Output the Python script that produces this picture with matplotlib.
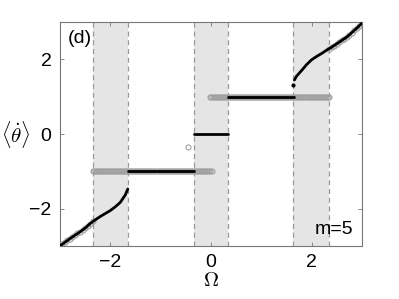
import numpy as np
import matplotlib
matplotlib.use("Agg")
import matplotlib.pyplot as plt

plt.rcParams['font.family'] = ['Liberation Sans', 'DejaVu Sans']
plt.rcParams['mathtext.fontset'] = 'cm'

# locking windows (shaded bands)
bands = [(-2.35, -1.64), (-0.34, 0.34), (1.64, 2.35)]

# black branch: drifting parts
left_om = [-3.0, -2.9, -2.8, -2.7, -2.6, -2.5, -2.4, -2.3, -2.2, -2.1, -2.0, -1.9, -1.8, -1.7, -1.65]
left_val = [-3.0, -2.9, -2.8, -2.71, -2.62, -2.52, -2.40, -2.30, -2.21, -2.13, -2.05, -1.95, -1.83, -1.63, -1.47]
right_om = [1.66, 1.7, 1.8, 1.9, 2.0, 2.1, 2.2, 2.3, 2.4, 2.5, 2.6, 2.7, 2.8, 2.9, 3.0]
right_val = [1.45, 1.55, 1.70, 1.86, 1.99, 2.08, 2.16, 2.25, 2.33, 2.42, 2.51, 2.60, 2.72, 2.84, 2.97]
right_first = (1.64, 1.32)

# black branch: plateaus (start, end, level)
black_plateaus = [(-1.65, -0.34, -1.0), (-0.34, 0.34, 0.0), (0.34, 1.65, 1.0)]

# gray branch: plateaus and drifting ends
gray_plateaus = [(-2.35, 0.03, -1.0), (-0.02, 2.35, 1.0)]
gray_left_om = [-3.0, -2.95, -2.9, -2.85, -2.8, -2.75, -2.7, -2.65, -2.6, -2.55, -2.5, -2.45, -2.4, -2.35]
gray_left_val = [-3.0, -2.95, -2.9, -2.85, -2.8, -2.75, -2.71, -2.66, -2.62, -2.57, -2.52, -2.46, -2.40, -2.34]
gray_right_om = [2.35, 2.4, 2.45, 2.5, 2.55, 2.6, 2.65, 2.7, 2.75, 2.8, 2.85, 2.9, 2.95, 3.0]
gray_right_val = [2.29, 2.33, 2.37, 2.42, 2.46, 2.51, 2.55, 2.60, 2.66, 2.72, 2.78, 2.84, 2.90, 2.97]
gray_outlier = (-0.45, -0.34)

step = 0.03

fig = plt.figure(figsize=(3.99, 2.99), dpi=100)
ax = fig.add_axes([0.150, 0.177, 0.757, 0.749])

for a, b in bands:
    ax.axvspan(a, b, color='#e5e5e5', lw=0, zorder=0)
    ax.axvline(a, color='#999999', ls=(0, (4, 3)), lw=0.9, zorder=1)
    ax.axvline(b, color='#999999', ls=(0, (4, 3)), lw=0.9, zorder=1)

gcol = '#a0a0a0'
gkw = dict(ls='none', marker='o', ms=3.6, mfc='none', mec=gcol, mew=0.8, zorder=2)
for a, b, lev in gray_plateaus:
    xs = np.arange(a, b + 1e-9, step)
    ax.plot(xs, np.full_like(xs, lev), **gkw)
ax.plot(gray_left_om, gray_left_val, **gkw)
ax.plot(gray_right_om, gray_right_val, **gkw)
ax.plot(*gray_outlier, **gkw)

bkw = dict(color='black', lw=2.0, solid_capstyle='round', zorder=3)
ax.plot(left_om, left_val, **bkw)
ax.plot(right_om, right_val, **bkw)
ax.plot(*right_first, 'o', color='black', ms=2.0, zorder=3)
for a, b, lev in black_plateaus:
    ax.plot([a, b], [lev, lev], **bkw)

ax.set_xlim(-3, 3)
ax.set_ylim(-3, 3)
ax.set_xticks([-2, 0, 2])
ax.set_yticks([-2, 0, 2])
ax.tick_params(direction='in', length=3, width=0.6, color='#777777',
               labelsize=14, top=True, right=True, pad=6)
for s in ax.spines.values():
    s.set_color('#777777')
    s.set_linewidth(0.8)

ax.set_xlabel(r'$\Omega$', fontsize=15, labelpad=0)
ax.set_ylabel(r'$\langle\dot{\theta}\rangle$', fontsize=15, rotation=0, va='center')
ax.yaxis.set_label_coords(-0.145, 0.5)

ax.text(0.025, 0.965, '(d)', transform=ax.transAxes, fontsize=14, va='top', ha='left')
ax.text(0.97, 0.035, 'm=5', transform=ax.transAxes, fontsize=14, va='bottom', ha='right')

fig.savefig('out.png', dpi=100)
